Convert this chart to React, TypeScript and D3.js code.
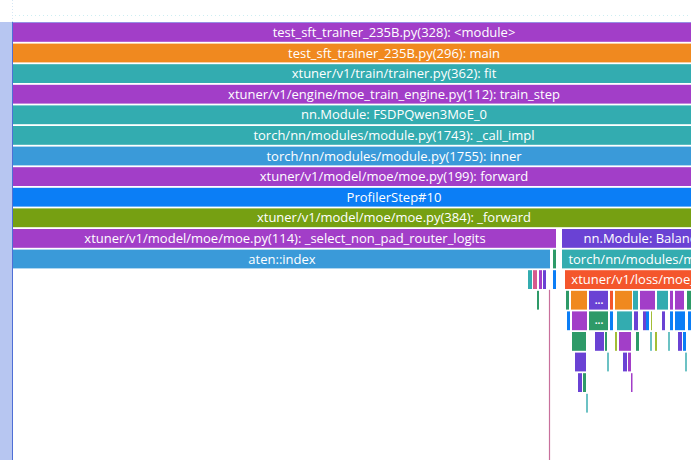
import { useMemo } from 'react';
import * as d3 from 'd3';

// trace slices: [name, depth, start(us), end(us), colour key]
type Slice = [string, number, number, number, string];

const PALETTE: Record<string, string> = {
  purple: '#a23ec8',
  orange: '#f0891f',
  teal: '#33acb0',
  blue: '#3a9ad9',
  brightBlue: '#0b7ef6',
  olive: '#76a012',
  violet: '#6a42d4',
  red: '#f4562c',
  green: '#2e9a68',
  pink: '#d65a8e',
  lime: '#a3be35',
  paleTeal: '#6cc2c4',
};

// main call stack, all spanning past the right edge of the view
const mainStack: Slice[] = [
  ['test_sft_trainer_235B.py(328): <module>', 0, 0, 7620, 'purple'],
  ['test_sft_trainer_235B.py(296): main', 1, 0, 7620, 'orange'],
  ['xtuner/v1/train/trainer.py(362): fit', 2, 0, 7620, 'teal'],
  ['xtuner/v1/engine/moe_train_engine.py(112): train_step', 3, 0, 7620, 'purple'],
  ['nn.Module: FSDPQwen3MoE_0', 4, 0, 7620, 'teal'],
  ['torch/nn/modules/module.py(1743): _call_impl', 5, 0, 7620, 'teal'],
  ['torch/nn/modules/module.py(1755): inner', 6, 0, 7620, 'blue'],
  ['xtuner/v1/model/moe/moe.py(199): forward', 7, 0, 7620, 'purple'],
  ['ProfilerStep#10', 8, 0, 7620, 'brightBlue'],
  ['xtuner/v1/model/moe/moe.py(384): _forward', 9, 0, 7620, 'olive'],
];

const routerSlices: Slice[] = [
  ['xtuner/v1/model/moe/moe.py(114): _select_non_pad_router_logits', 10, 0, 5440, 'purple'],
  ['aten::index', 11, 0, 5380, 'blue'],
  ['aten::nonzero', 11, 5400, 5430, 'green'],
  ['aten::item', 12, 5150, 5200, 'teal'],
  ['aten::_local_scalar_dense', 12, 5200, 5250, 'pink'],
  ['aten::to', 12, 5260, 5300, 'purple'],
  ['aten::_to_copy', 12, 5300, 5340, 'violet'],
  ['aten::empty', 12, 5400, 5430, 'brightBlue'],
  ['cudaMemcpyAsync', 13, 5240, 5260, 'green'],
];

const lossSlices: Slice[] = [
  ['nn.Module: BalancingLoss_0', 10, 5490, 7630, 'violet'],
  ['torch/nn/modules/module.py(1762): _call_impl', 11, 5490, 8430, 'teal'],
  ['xtuner/v1/loss/moe_loss.py(85): forward', 12, 5520, 8080, 'red'],
];

const lossChildren: Slice[] = [
  ['aten::softmax', 13, 5530, 5570, 'green'],
  ['aten::topk', 13, 5580, 5750, 'orange'],
  ['xtuner/v1/loss/moe_loss.py(40): balancing_loss', 13, 5760, 5960, 'violet'],
  ['aten::sum', 13, 5970, 6010, 'red'],
  ['aten::scatter_add_', 13, 6020, 6200, 'orange'],
  ['aten::div', 13, 6200, 6260, 'teal'],
  ['aten::mean', 13, 6270, 6430, 'purple'],
  ['aten::mul', 13, 6440, 6560, 'teal'],
  ['aten::zeros', 13, 6570, 6610, 'purple'],
  ['aten::all_reduce', 13, 6620, 6720, 'purple'],
  ['aten::add', 13, 6740, 6800, 'green'],
  ['aten::empty', 14, 5540, 5570, 'brightBlue'],
  ['aten::sort', 14, 5590, 5750, 'purple'],
  ['torch/distributed/distributed_c10d.py(2806): all_reduce', 14, 5760, 5960, 'green'],
  ['aten::fill_', 14, 5970, 6000, 'brightBlue'],
  ['aten::scatter_add', 14, 6040, 6200, 'teal'],
  ['aten::copy_', 14, 6210, 6260, 'violet'],
  ['aten::sum', 14, 6300, 6330, 'violet'],
  ['aten::as_strided', 14, 6330, 6370, 'brightBlue'],
  ['aten::view', 14, 6380, 6390, 'lime'],
  ['aten::zero_', 14, 6490, 6520, 'violet'],
  ['aten::empty', 14, 6570, 6600, 'brightBlue'],
  ['c10d::allreduce_', 14, 6620, 6730, 'brightBlue'],
  ['aten::add_', 14, 6750, 6800, 'brightBlue'],
  ['aten::topk', 15, 5590, 5740, 'green'],
  ['record_param_comms', 15, 5820, 5920, 'violet'],
  ['aten::empty', 15, 5920, 5940, 'green'],
  ['aten::view', 15, 6020, 6040, 'lime'],
  ['aten::fill_', 15, 6060, 6190, 'purple'],
  ['aten::copy_', 15, 6230, 6260, 'green'],
  ['aten::resolve_conj', 15, 6370, 6390, 'paleTeal'],
  ['aten::view', 15, 6420, 6440, 'lime'],
  ['aten::fill_', 15, 6550, 6570, 'paleTeal'],
  ['record_param_comms', 15, 6650, 6700, 'violet'],
  ['nccl:all_reduce', 15, 6700, 6730, 'brightBlue'],
  ['cudaLaunchKernel', 16, 5620, 5740, 'violet'],
  ['aten::empty', 16, 5940, 5960, 'paleTeal'],
  ['cudaLaunchKernel', 16, 6100, 6150, 'violet'],
  ['cudaStreamWait', 16, 6150, 6180, 'purple'],
  ['cudaEventRecord', 16, 6720, 6740, 'paleTeal'],
  ['cudaLaunchKernel', 17, 5650, 5700, 'violet'],
  ['cudaEventQuery', 17, 5700, 5740, 'green'],
  ['cudaMemsetAsync', 17, 6180, 6195, 'purple'],
  ['cudaGetDevice', 18, 5730, 5750, 'paleTeal'],
];

const flowTimes = [5365];

const viewDomain: [number, number] = [0, 6780];

const FONT = '13px "Open Sans", sans-serif';

const W = 691;
const H = 460;
const LEFT = 13;
const TOP = 23;
const ROW = 20.6;
const BAR_H = 18.8;

let measureCtx: CanvasRenderingContext2D | null = null;
function textWidth(s: string): number {
  if (!measureCtx) measureCtx = document.createElement('canvas').getContext('2d');
  if (!measureCtx) return s.length * 6.5;
  measureCtx.font = FONT;
  return measureCtx.measureText(s).width;
}

export default function App() {
  const x = useMemo(() => d3.scaleLinear().domain(viewDomain).range([LEFT, W]), []);
  const rowY = (depth: number) => TOP + depth * ROW;
  const all = [...mainStack, ...routerSlices, ...lossSlices, ...lossChildren];

  return (
    <svg width={W} height={H} style={{ position: 'absolute', left: 0, top: 0, background: '#fff' }}>
      {/* faint guides in the header area */}
      <line x1={LEFT + 2} x2={W} y1={15.5} y2={15.5} stroke="#cdeef2" strokeDasharray="1 3" />
      <line x1={12.5} x2={12.5} y1={0} y2={22} stroke="#d6e6f4" strokeDasharray="1 2" />

      {/* track header strip */}
      <rect x={0} y={22} width={12} height={H - 22} fill="#b7c6f1" />
      <line x1={12.5} x2={12.5} y1={22} y2={H} stroke="#4f6fd6" />

      {all.map(([name, depth, start, end, key], i) => {
        const x0 = x(start);
        const x1 = x(end);
        const w = x1 - x0;
        const y = rowY(depth);
        const visW = Math.min(x1, W) - Math.max(x0, LEFT);
        const tw = textWidth(name);
        let label = '';
        if (tw + 8 < w) label = name;
        else if (visW >= 19) label = '...';
        return (
          <g key={i}>
            <rect
              x={x0}
              y={y}
              width={Math.max(w > 3 ? w - 1 : w, 1)}
              height={BAR_H}
              fill={PALETTE[key]}
            />
            {label && (
              <text
                x={(x0 + x1) / 2}
                y={y + BAR_H / 2}
                dy="0.35em"
                textAnchor="middle"
                fill="#fff"
                style={{ font: label === '...' ? 'bold 10px "Open Sans", sans-serif' : FONT }}
              >
                {label}
              </text>
            )}
          </g>
        );
      })}

      <line x1={LEFT} x2={W} y1={22.5} y2={22.5} stroke="#6a5fd8" strokeOpacity={0.7} />

      {flowTimes.map((t) => (
        <line
          key={t}
          x1={x(t)}
          x2={x(t)}
          y1={rowY(13) - 1}
          y2={H}
          stroke="#c8709c"
          strokeWidth={1.2}
        />
      ))}
    </svg>
  );
}
